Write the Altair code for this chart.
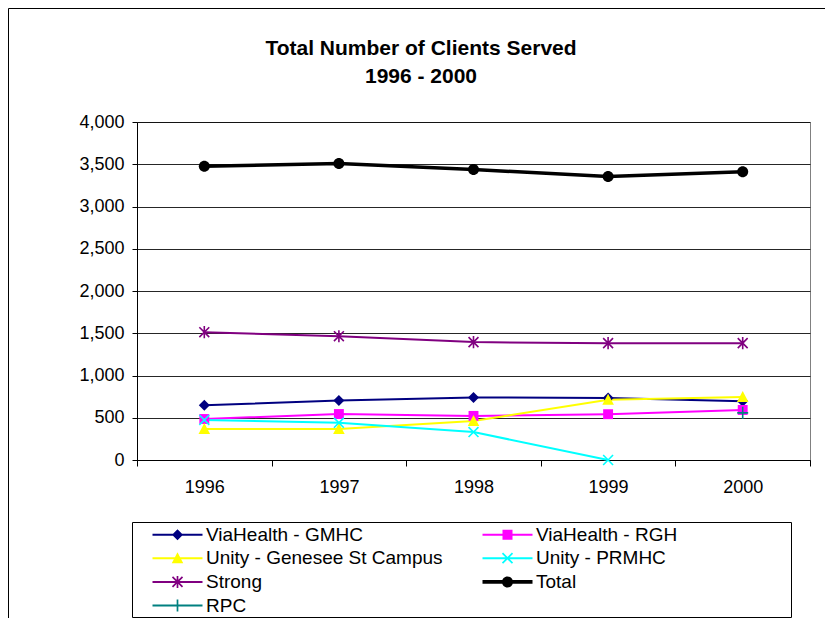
import altair as alt
import pandas as pd

years = ["1996", "1997", "1998", "1999", "2000"]
series_names = ["ViaHealth - GMHC", "ViaHealth - RGH", "Unity - Genesee St Campus",
                "Unity - PRMHC", "Strong", "Total", "RPC"]
gmhc = [648, 705, 740, 735, 695]
rgh = [485, 544, 522, 542, 592]
unity_genesee = [367, 367, 461, 712, 745]
unity_prmhc = [474, 440, 331, 0, None]
strong = [1513, 1465, 1395, 1383, 1383]
total = [3477, 3508, 3438, 3355, 3410]
rpc = [None, None, None, None, 558]
values = [gmhc, rgh, unity_genesee, unity_prmhc, strong, total, rpc]
title_lines = ["Total Number of Clients Served", "1996 - 2000"]

colors = ["#000080", "#FF00FF", "#FFFF00", "#00FFFF", "#800080", "#000000", "#008080"]
widths = [2, 2, 2, 2, 2, 3.5, 2]
filled_series = ["ViaHealth - GMHC", "ViaHealth - RGH", "Unity - Genesee St Campus", "Total"]

# chart marker glyphs (unit space, scaled by symbol size)
m_diamond = "M-1,0L0,-1L1,0L0,1Z"
m_square = "M-0.9,-0.9H0.9V0.9H-0.9Z"
m_triangle = "M0,-1.1L1.05,0.9H-1.05Z"
m_x = "M-0.9,-0.9L0.9,0.9M-0.9,0.9L0.9,-0.9"
m_star = "M-0.9,-0.9L0.9,0.9M-0.9,0.9L0.9,-0.9M0,-1.1V1.1"
m_circle = "M1,0A1,1,0,1,1,-1,0A1,1,0,1,1,1,0Z"
m_plus = "M-1,0H1M0,-1.1V1.1"
markers = [m_diamond, m_square, m_triangle, m_x, m_star, m_circle, m_plus]

# legend glyphs, all drawn as filled outlines (all sub-paths clockwise)
thin = "M-5,-0.2H5V0.2H-5Z"
thick = "M-5,-0.36H5V0.36H-5Z"
a = 0.12
diag1 = f"M{-1+a},{-1-a}L{1+a},{1-a}L{1-a},{1+a}L{-1-a},{-1+a}Z"
diag2 = f"M{-1-a},{1-a}L{1-a},{-1-a}L{1+a},{-1+a}L{-1+a},{1+a}Z"
vbar = "M-0.17,-1.2H0.17V1.2H-0.17Z"
leg_shapes = [
    thin + "M0,-1.1L1.1,0L0,1.1L-1.1,0Z",
    thin + "M-1,-1H1V1H-1Z",
    thin + "M0,-1.2L1.15,1H-1.15Z",
    thin + diag1 + diag2,
    thin + diag1 + diag2 + vbar,
    thick + "M1.1,0A1.1,1.1,0,1,1,-1.1,0A1.1,1.1,0,1,1,1.1,0Z",
    thin + vbar,
]

rows = []
for name, vals in zip(series_names, values):
    for yr, v in zip(years, vals):
        if v is not None:
            rows.append({"year": yr, "value": v, "series": name})
df = pd.DataFrame(rows)
df_leg = pd.DataFrame({"series": series_names})
df_title = pd.DataFrame({"line": title_lines})

FONT = "Liberation Sans, Arial, sans-serif"

def cscale():
    return alt.Scale(domain=series_names, range=colors)

sw_scale = alt.Scale(type="ordinal", domain=series_names, range=widths)
shape_scale = alt.Scale(domain=series_names, range=markers)

x_enc = alt.X("year:N", sort=years,
              scale=alt.Scale(type="band", domain=years, paddingInner=0, paddingOuter=0),
              axis=alt.Axis(title=None, labelAngle=0, tickBand="extent", grid=False,
                            tickSize=6, labelPadding=12, labelFontSize=18))
y_enc = alt.Y("value:Q", scale=alt.Scale(domain=[0, 4000], nice=False),
              axis=alt.Axis(title=None, values=list(range(0, 4001, 500)), format=",.0f",
                            grid=True, gridColor="#000000", gridOpacity=0.85, tickSize=5,
                            labelPadding=8, labelFontSize=18))

base = alt.Chart(df)

lines = base.mark_line().encode(
    x=x_enc, y=y_enc,
    color=alt.Color("series:N", scale=cscale(), legend=None),
    strokeWidth=alt.StrokeWidth("series:N", scale=sw_scale, legend=None),
)

pts_filled = base.mark_point(filled=True, size=121, opacity=1, strokeWidth=1).encode(
    x=x_enc, y=y_enc,
    color=alt.Color("series:N", scale=cscale(), legend=None),
    shape=alt.Shape("series:N", scale=shape_scale, legend=None),
).transform_filter(alt.FieldOneOfPredicate(field="series", oneOf=filled_series))

pts_open = base.mark_point(filled=False, size=121, opacity=1, strokeWidth=1.6).encode(
    x=x_enc, y=y_enc,
    color=alt.Color("series:N", scale=cscale(), legend=None),
    shape=alt.Shape("series:N", scale=shape_scale, legend=None),
).transform_filter(~alt.FieldOneOfPredicate(field="series", oneOf=filled_series))

leg = alt.Legend(
    title=None, orient="none", legendX=31, legendY=403, columns=2, direction="horizontal",
    columnPadding=39, rowPadding=3.7, symbolSize=100, labelOffset=19, padding=0,
    labelFontSize=19, labelFont=FONT, labelColor="#000000", labelLimit=400,
    symbolOpacity=1, symbolStrokeWidth=0,
)

legend_layer = alt.Chart(df_leg).mark_point(filled=True, opacity=1).encode(
    color=alt.Color("series:N", scale=cscale(), legend=leg),
    shape=alt.Shape("series:N", scale=alt.Scale(domain=series_names, range=leg_shapes), legend=leg),
).transform_filter("false")

deco = pd.DataFrame({"k": [0]})
legend_box = alt.Chart(deco).mark_rect(fill="white", stroke="#000000", strokeWidth=1).encode(
    x=alt.value(-4.5), x2=alt.value(654.5), y=alt.value(400.5), y2=alt.value(495.5))
border_left = alt.Chart(deco).mark_rule(color="#000000", strokeWidth=1).encode(
    x=alt.value(-128.5), y=alt.value(-113.5), y2=alt.value(496))
border_top = alt.Chart(deco).mark_rule(color="#000000", strokeWidth=1).encode(
    x=alt.value(-128.5), x2=alt.value(688), y=alt.value(-113.5))

title_style = dict(font=FONT, fontSize=21, fontWeight="bold", color="#000000",
                   align="center", baseline="alphabetic")
title1 = alt.Chart(df_title).mark_text(**title_style).encode(
    text="line:N", x=alt.value(284), y=alt.value(-67)
).transform_filter(alt.datum.line == title_lines[0])
title2 = alt.Chart(df_title).mark_text(**title_style).encode(
    text="line:N", x=alt.value(284), y=alt.value(-39)
).transform_filter(alt.datum.line == title_lines[1])

chart = alt.layer(
    legend_box, border_left, border_top, lines, pts_filled, pts_open, legend_layer, title1, title2
).resolve_scale(
    shape="independent", strokeWidth="independent", color="independent"
).properties(
    width=673, height=338,
    autosize=alt.AutoSizeParams(type="none"),
    padding={"left": 129, "top": 114, "right": 15, "bottom": 158},
).configure(
    background="white",
).configure_view(
    stroke="#808080", strokeWidth=1,
).configure_axis(
    labelFont=FONT, labelColor="#000000", domainColor="#000000", tickColor="#000000",
    domainWidth=1, tickWidth=1,
)

chart.save("out.html", embed_options={"renderer": "svg", "actions": False})
